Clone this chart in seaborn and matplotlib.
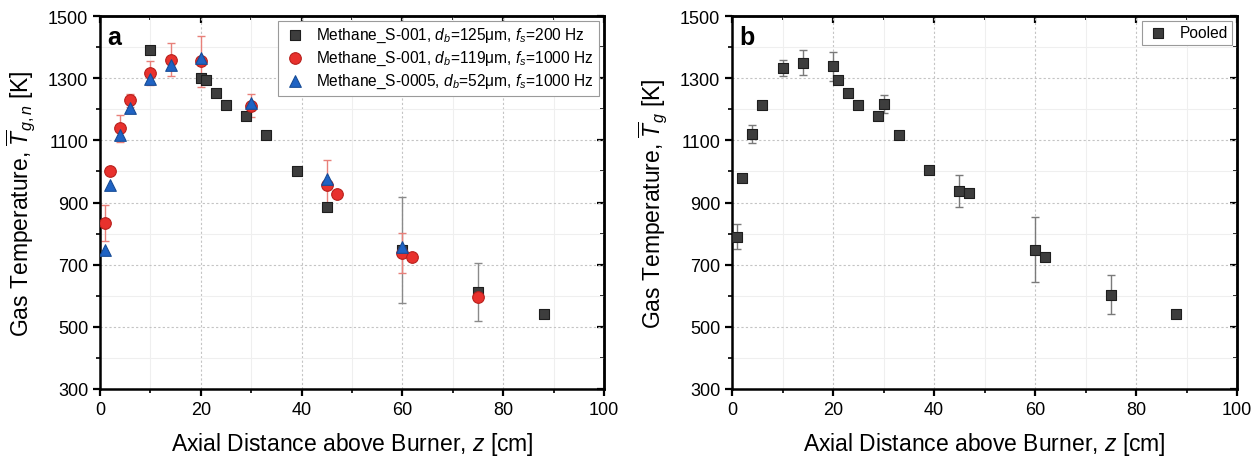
import numpy as np
import pandas as pd
import matplotlib
matplotlib.use("Agg")
import matplotlib.pyplot as plt
import seaborn as sns
from matplotlib.ticker import MultipleLocator, FixedLocator

# ---- data ----
z_sq = [10, 20, 21, 23, 25, 29, 33, 39, 45, 60, 75, 88]
T_sq = [1390, 1300, 1295, 1252, 1215, 1179, 1116, 1002, 884, 748, 612, 541]
e_sq = [0, 0, 0, 0, 0, 0, 0, 0, 0, 170, 92, 0]

z_ci = [1, 2, 4, 6, 10, 14, 20, 30, 45, 47, 60, 62, 75]
T_ci = [834, 1000, 1139, 1229, 1317, 1360, 1354, 1212, 957, 928, 738, 724, 596]
e_ci = [57, 0, 43, 21, 38, 54, 82, 36, 80, 0, 65, 0, 0]

z_tr = [1, 2, 4, 6, 10, 14, 20, 30, 45, 60]
T_tr = [748, 956, 1117, 1203, 1297, 1342, 1364, 1219, 976, 758]

z_pool = [1, 2, 4, 6, 10, 14, 20, 21, 23, 25, 29, 30, 33, 39, 45, 47, 60, 62, 75, 88]
T_pool = [790, 978, 1121, 1215, 1333, 1350, 1338, 1294, 1251, 1215, 1179, 1217, 1116, 1003, 937, 929, 748, 726, 604, 542]
e_pool = [40, 0, 28, 0, 25, 40, 47, 0, 0, 0, 0, 28, 0, 0, 50, 0, 105, 0, 63, 0]

x_major = [0, 20, 40, 60, 80, 100]
y_major = [300, 500, 700, 900, 1100, 1300, 1500]

lab_sq = "Methane_S-001, $d_b$=125\u03bcm, $f_s$=200 Hz"
lab_ci = "Methane_S-001, $d_b$=119\u03bcm, $f_s$=1000 Hz"
lab_tr = "Methane_S-0005, $d_b$=52\u03bcm, $f_s$=1000 Hz"
lab_pool = "Pooled"

sns.set_style("white")
plt.rcParams['font.family'] = ['Liberation Sans', 'DejaVu Sans']
plt.rcParams['mathtext.fontset'] = 'custom'
plt.rcParams['mathtext.rm'] = 'Liberation Sans'
plt.rcParams['mathtext.it'] = 'Liberation Sans:italic'
plt.rcParams['mathtext.bf'] = 'Liberation Sans:bold'
for k in ['text.color', 'axes.labelcolor', 'xtick.color', 'ytick.color']:
    plt.rcParams[k] = 'black'

fig = plt.figure(figsize=(12.6, 4.6), dpi=100)
axA = fig.add_axes([100/1260, 70/460, 504/1260, 373/460])
axB = fig.add_axes([732/1260, 70/460, 505/1260, 373/460])

C_SQ, E_SQ = "#3d3d3d", "#1e1e1e"
C_CI, E_CI = "#e8312d", "#b8201c"
C_TR, E_TR = "#1f63c4", "#174c96"


def set_ticks(axis, major, minor_step):
    axis.set_major_locator(FixedLocator(major))
    axis.set_minor_locator(MultipleLocator(minor_step))


def style_axis(ax, ylabel):
    ax.set_xlim(0, 100)
    ax.set_ylim(300, 1500)
    set_ticks(ax.xaxis, x_major, 10)
    set_ticks(ax.yaxis, y_major, 100)
    ax.grid(True, which='major', color='#c4c4c4', linestyle=(0, (2, 2)), linewidth=0.8)
    ax.grid(True, which='minor', color='#efefef', linestyle='-', linewidth=0.8)
    ax.set_axisbelow(True)
    for s in ax.spines.values():
        s.set_visible(True)
        s.set_linewidth(1.8)
        s.set_color('black')
    ax.tick_params(which='both', bottom=True, left=True, top=False, right=False,
                   direction='out', labelsize=13, color='black', labelcolor='black')
    ax.tick_params(which='major', length=5, width=1.6)
    ax.tick_params(which='minor', length=3, width=1.2)
    ax.set_xlabel("Axial Distance above Burner, $z$ [cm]", fontsize=16.5, labelpad=9)
    ax.set_ylabel(ylabel, fontsize=16.5, labelpad=7)
    sx = ax.secondary_xaxis('top')
    set_ticks(sx.xaxis, x_major, 10)
    sx.tick_params(which='both', direction='in', labeltop=False, color='black')
    sx.tick_params(which='major', length=5, width=1.6)
    sx.tick_params(which='minor', length=3, width=1.2)
    sx.spines['top'].set_linewidth(1.8)
    sy = ax.secondary_yaxis('right')
    set_ticks(sy.yaxis, y_major, 100)
    sy.tick_params(which='both', direction='in', labelright=False, color='black')
    sy.tick_params(which='major', length=5, width=1.6)
    sy.tick_params(which='minor', length=3, width=1.2)
    sy.spines['right'].set_linewidth(1.8)


# ---- panel a ----
ax = axA
ax.errorbar(z_sq, T_sq, yerr=e_sq, fmt='none', ecolor='#8a8a8a', elinewidth=1, capsize=3, capthick=1, zorder=2)
ax.errorbar(z_ci, T_ci, yerr=e_ci, fmt='none', ecolor='#e8807a', elinewidth=1, capsize=3, capthick=1, zorder=2)
sns.scatterplot(x=z_sq, y=T_sq, ax=ax, marker='s', s=60, color=C_SQ, edgecolor=E_SQ, linewidth=0.8, label=lab_sq, zorder=3)
sns.scatterplot(x=z_ci, y=T_ci, ax=ax, marker='o', s=70, color=C_CI, edgecolor=E_CI, linewidth=0.8, label=lab_ci, zorder=4)
sns.scatterplot(x=z_tr, y=T_tr, ax=ax, marker='^', s=70, color=C_TR, edgecolor=E_TR, linewidth=0.8, label=lab_tr, zorder=5)
style_axis(ax, "Gas Temperature, $\\overline{T}_{g,n}$ [K]")
leg = ax.legend(loc='upper right', fontsize=11.2, frameon=True, fancybox=False,
                edgecolor='#9a9a9a', framealpha=1, borderaxespad=0.3,
                handletextpad=0.6, labelspacing=0.3, borderpad=0.35, handlelength=1.5)
leg.get_frame().set_linewidth(0.8)
ax.text(0.015, 0.975, "a", transform=ax.transAxes, fontsize=18, fontweight='bold', va='top', ha='left', color='black')

# ---- panel b ----
ax = axB
ax.errorbar(z_pool, T_pool, yerr=e_pool, fmt='none', ecolor='#7a7a7a', elinewidth=1, capsize=3, capthick=1, zorder=2)
sns.scatterplot(x=z_pool, y=T_pool, ax=ax, marker='s', s=60, color=C_SQ, edgecolor=E_SQ, linewidth=0.8, label=lab_pool, zorder=3)
style_axis(ax, "Gas Temperature, $\\overline{T}_{g}$ [K]")
leg = ax.legend(loc='upper right', fontsize=11.2, frameon=True, fancybox=False,
                edgecolor='#9a9a9a', framealpha=1, borderaxespad=0.3,
                handletextpad=0.6, borderpad=0.3, handlelength=1.5)
leg.get_frame().set_linewidth(0.8)
ax.text(0.015, 0.975, "b", transform=ax.transAxes, fontsize=18, fontweight='bold', va='top', ha='left', color='black')

fig.savefig("out.png", dpi=100)
